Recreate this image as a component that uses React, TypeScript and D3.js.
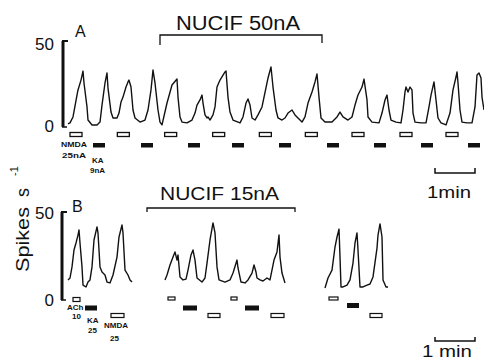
import React from 'react';
import * as d3 from 'd3';

// ---------- data (time in s, rate in spikes/s) ----------
const traceA: [number, number][] = [
  [3,1.8],[6,2.4],[10.5,5.9],[16.5,18.8],[18,21.8],[22.5,27.6],[25.5,32.9],[27,25.9],[31.5,11.8],[33,4.1],
  [39,1.2],[46.5,1.2],[51,2.9],[54,12.9],[58.5,25.9],[61.5,31.8],[63,22.9],[67.5,8.8],[70.5,5.3],[76.5,5.3],
  [79.5,8.2],[82.5,14.7],[85.5,17.6],[90,23.5],[93,26.5],[94.5,27.6],[97.5,23.5],[100.5,10],[103.5,5.3],[111,2.9],
  [118.5,4.1],[123,10],[127.5,21.8],[130.5,33.5],[133.5,25.9],[138,10],[141,2.9],[144,1.2],[151.5,14.1],[159,24.7],
  [166.5,28.2],[168,17.6],[171,5.9],[174,2.9],[181.5,2.4],[189,4.1],[193.5,8.2],[196.5,12.9],[201,15.9],[204,18.8],
  [205.5,14.1],[208.5,7.1],[211.5,5.3],[213,5.9],[216,4.1],[220.5,7.1],[223.5,11.8],[226.5,23.5],[231,27.6],[238.5,32.4],
  [240,32.9],[243,17.6],[246,8.8],[250.5,4.1],[261,2.4],[265.5,5.9],[270,14.1],[273,16.5],[276,12.9],[279,5.3],
  [283.5,4.1],[288,7.1],[294,11.8],[301.5,25.9],[303,28.8],[307.5,35.3],[310.5,23.5],[315,10],[318,5.3],[324,4.1],
  [328.5,5.3],[333,8.2],[339,10],[343.5,7.1],[348,5.3],[354,2.9],[358.5,5.9],[363,14.1],[369,20.6],[373.5,26.5],
  [376.5,31.2],[379.5,17.6],[382.5,5.3],[388.5,2.9],[399,2.9],[406.5,5.9],[411,8.8],[415.5,5.9],[423,4.1],[429,5.9],
  [433.5,12.9],[438,18.8],[444,23.5],[447,28.2],[451.5,15.9],[453,5.9],[459,2.9],[469.5,2.4],[474,8.2],[478.5,15.9],
  [481.5,18.8],[484.5,10],[487.5,4.1],[495,2.9],[502.5,2.4],[505.5,10],[508.5,20.6],[510,23.5],[513,20.6],[516,23.5],
  [519,21.8],[520.5,8.2],[523.5,2.9],[532.5,2.4],[540,2.4],[544.5,11.8],[547.5,18.8],[552,26.5],[555,15.9],[558,5.3],
  [562.5,2.4],[570,1.2],[576,8.2],[580.5,21.8],[585,29.4],[586.5,32.4],[588,25.9],[591,10],[594,2.9],[601.5,2.4],
  [609,2.4],[613.5,11.8],[616.5,30.6],[619.5,31.8],[622.5,28.8],[624,17.6],[627,10]
];

const traceB1: [number, number][] = [
  [3,11.4],[6,12.5],[9,18.8],[12,28.4],[15,32.4],[18,36.9],[19.5,39.8],[21,32.4],[24,18.8],[25.5,8.5],
  [30,7.4],[33,10.2],[36,11.4],[39,18.8],[42,34.1],[46.5,41.5],[48,38.1],[51,18.8],[54,15.9],[58.5,14.2],
  [61.5,10.2],[66,9.7],[70.5,14.2],[76.5,24.4],[79.5,35.8],[84,42.6],[85.5,38.1],[88.5,17],[93,14.2],[96,11.4],[99,10.2]
];
const traceB2: [number, number][] = [
  [148.5,11.4],[151.5,14.2],[156,19.9],[160.5,24.4],[163.5,27.3],[166.5,22.7],[168,25.6],[171,13.1],[175.5,11.4],[180,11.9],
  [183,17],[187.5,25.6],[190.5,28.4],[193.5,22.7],[196.5,12.5],[204,10.2],[208.5,12.5],[211.5,21],[216,34.1],[220.5,43.8],
  [223.5,38.1],[226.5,18.8],[229.5,11.4],[238.5,10.2],[246,11.4],[250.5,15.3],[256.5,22.7],[258,18.2],[262.5,10.2],[268.5,9.7],
  [273,11.4],[279,15.3],[282,19.9],[285,15.9],[286.5,12.5],[291,11.4],[295.5,10.8],[301.5,12.5],[306,11.4],[312,22.7],
  [316.5,27.3],[319.5,36.9],[321,24.4],[324,15.3],[328.5,9.7]
];
const traceB3: [number, number][] = [
  [388.5,6.8],[393,12.5],[399,17],[403.5,30.1],[406.5,35.8],[409.5,40.3],[411,24.4],[412.5,7.4],[415.5,7.4],[421.5,8.5],
  [426,11.4],[430.5,21],[433.5,32.4],[436.5,38.1],[438,28.4],[441,7.4],[445.5,7.4],[451.5,8.5],[456,9.1],[460.5,13.1],
  [466.5,29.5],[468,36.9],[471,43.2],[474,35.8],[475.5,11.4],[480,7.4],[483,7.4]
];

// stimulus application times (s)
const nmdaStartA = [6, 77, 148, 220, 290, 359, 429, 501, 570];
const kaStartA = [40.5, 112.5, 183, 249, 319.5, 391.5, 462, 532.5, 603];
const pulseDurA = 18;

const achB: [number, number][] = [[10.5,21],[153,163.5],[247.5,256.5],[394.5,408]];
const kaB: [number, number][] = [[28.5,46.5],[175.5,196.5],[268.5,289.5],[421.5,439.5]];
const nmdaB: [number, number][] = [[67.5,87],[213,231],[307.5,327],[456,474]];

const nucifA: [number, number] = [141, 384];
const nucifB: [number, number] = [121.5, 343.5];
const yTicks = [0, 50];
const scaleBarSec = 60;

const FONT = '"Liberation Sans", Arial, sans-serif';

export default function App() {
  const x = d3.scaleLinear().domain([0, 630]).range([66, 486]);
  const yA = d3.scaleLinear().domain([0, 50]).range([127, 42]);
  const yB = d3.scaleLinear().domain([0, 50]).range([300, 212]);

  const lineA = d3.line<[number, number]>().x(d => x(d[0])).y(d => yA(d[1]));
  const lineB = d3.line<[number, number]>().x(d => x(d[0])).y(d => yB(d[1]));

  const sb0 = 553.5;
  const stroke = '#111';

  return (
    <svg width={484} height={361} style={{ position: 'absolute', left: 0, top: 0, background: '#fff' }}
      fontFamily={FONT}>
      <rect x={0} y={0} width={484} height={361} fill="#fff" />

      {/* ---------- Panel A ---------- */}
      <text x={75} y={37} fontSize={16} fill={stroke}>A</text>
      {yTicks.map(t => (
        <text key={'ta' + t} x={54} y={yA(t) + (t === 0 ? 5 : 8)} fontSize={17} textAnchor="end" fill={stroke}>{t}</text>
      ))}
      <line x1={63} x2={63} y1={yA(50) - 1} y2={yA(0)} stroke={stroke} strokeWidth={3} />
      <line x1={62} x2={68} y1={yA(50) - 1} y2={yA(50) - 1} stroke={stroke} strokeWidth={2} />
      <line x1={62} x2={67} y1={yA(0)} y2={yA(0)} stroke={stroke} strokeWidth={1.5} />
      <path d={lineA(traceA) || ''} fill="none" stroke={stroke} strokeWidth={1.4} strokeLinejoin="round" />

      {/* NUCIF bracket A */}
      <path d={`M${x(nucifA[0])},45 V35 H${x(nucifA[1])} V43`} fill="none" stroke={stroke} strokeWidth={1.3} />
      <text x={176} y={30} fontSize={20} textLength={124} lengthAdjust="spacingAndGlyphs" fill={stroke}>NUCIF 50nA</text>

      {/* stimuli A */}
      {nmdaStartA.map((s, i) => (
        <rect key={'na' + i} x={x(s)} y={132.5} width={x(s + pulseDurA) - x(s)} height={4} fill="#fff" stroke={stroke} strokeWidth={1.3} />
      ))}
      {kaStartA.map((s, i) => (
        <rect key={'ka' + i} x={x(s)} y={143} width={x(s + pulseDurA) - x(s)} height={4.5} fill={stroke} />
      ))}
      <g fontSize={8} fontWeight="bold" fill={stroke}>
        <text x={61} y={147} textLength={26} lengthAdjust="spacingAndGlyphs">NMDA</text>
        <text x={62} y={157.5} textLength={24} lengthAdjust="spacingAndGlyphs">25nA</text>
        <text x={92} y={162.5}>KA</text>
        <text x={90} y={173}>9nA</text>
      </g>

      {/* scale bar A */}
      <path d={`M${x(sb0)},168 V173 H${x(sb0 + scaleBarSec)} V168`} fill="none" stroke={stroke} strokeWidth={1.5} />
      <text x={427} y={198} fontSize={16} textLength={44} lengthAdjust="spacingAndGlyphs" fill={stroke}>1min</text>

      {/* ---------- Y label ---------- */}
      <g fill={stroke}>
        <text transform="translate(29,272) rotate(-90)" fontSize={18} textLength={65} lengthAdjust="spacingAndGlyphs">Spikes</text>
        <text transform="translate(29,197) rotate(-90)" fontSize={18}>s</text>
        <text transform="translate(18,176) rotate(-90)" fontSize={11}>-1</text>
      </g>

      {/* ---------- Panel B ---------- */}
      <text x={72} y={212} fontSize={16} fill={stroke}>B</text>
      {yTicks.map(t => (
        <text key={'tb' + t} x={54} y={yB(t) + (t === 0 ? 6 : 7)} fontSize={17} textAnchor="end" fill={stroke}>{t}</text>
      ))}
      <line x1={62} x2={62} y1={yB(50)} y2={yB(0)} stroke={stroke} strokeWidth={3} />
      <line x1={61} x2={67} y1={yB(50)} y2={yB(50)} stroke={stroke} strokeWidth={2} />
      <line x1={61} x2={66} y1={yB(0)} y2={yB(0)} stroke={stroke} strokeWidth={1.5} />
      {[traceB1, traceB2, traceB3].map((tr, i) => (
        <path key={'tb' + i} d={lineB(tr) || ''} fill="none" stroke={stroke} strokeWidth={1.4} strokeLinejoin="round" />
      ))}

      {/* NUCIF bracket B */}
      <path d={`M${x(nucifB[0])},212 V208 H${x(nucifB[1])} V212`} fill="none" stroke={stroke} strokeWidth={1.3} />
      <text x={160} y={200} fontSize={18} textLength={119} lengthAdjust="spacingAndGlyphs" fill={stroke}>NUCIF 15nA</text>

      {/* stimuli B */}
      {achB.map((d, i) => (
        <rect key={'ab' + i} x={x(d[0])} y={i === 0 ? 297.5 : 297} width={x(d[1]) - x(d[0])} height={i === 0 ? 4 : 3}
          fill="#fff" stroke={stroke} strokeWidth={1.2} />
      ))}
      {kaB.map((d, i) => (
        <rect key={'kb' + i} x={x(d[0])} y={i === 3 ? 303 : 305.5} width={x(d[1]) - x(d[0])} height={5} fill={stroke} />
      ))}
      {nmdaB.map((d, i) => (
        <rect key={'nb' + i} x={x(d[0])} y={313.5} width={x(d[1]) - x(d[0])} height={4} fill="#fff" stroke={stroke} strokeWidth={1.2} />
      ))}
      <g fontSize={8} fontWeight="bold" fill={stroke}>
        <text x={67} y={310}>ACh</text>
        <text x={72} y={318.5}>10</text>
        <text x={87} y={323}>KA</text>
        <text x={88} y={333}>25</text>
        <text x={104} y={328} textLength={24} lengthAdjust="spacingAndGlyphs">NMDA</text>
        <text x={110} y={341}>25</text>
      </g>

      {/* scale bar B */}
      <path d={`M${x(sb0)},337 V341 H${x(sb0 + scaleBarSec)} V337`} fill="none" stroke={stroke} strokeWidth={1.5} />
      <text x={422} y={357} fontSize={17} textLength={50} lengthAdjust="spacingAndGlyphs" fill={stroke}>1 min</text>
    </svg>
  );
}
